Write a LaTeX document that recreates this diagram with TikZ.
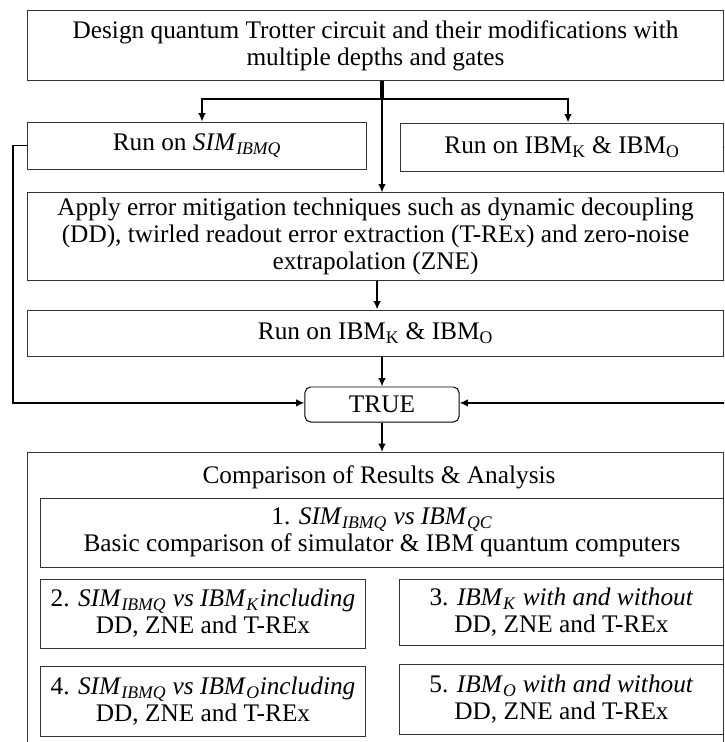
\documentclass[tikz,border=0pt]{standalone}
\usepackage{fontspec}
\setmainfont{Liberation Serif}
\usetikzlibrary{positioning, arrows.meta}

% italic name with italic subscript
\newcommand{\qsub}[2]{\textit{#1}\textsubscript{\textit{#2}}}

\begin{document}
\begin{tikzpicture}[
    x=0.025cm, y=-0.025cm,
    font=\fontsize{18}{19}\selectfont,
    box/.style={rectangle, draw=black!80, line width=0.7pt, inner sep=2pt, align=center},
    stage/.style={box, minimum width=17.375cm},
    half/.style={box, minimum width=8.1cm},
    cmp/.style={box, minimum width=8.1cm, minimum height=1.725cm},
    decision/.style={box, rounded corners=4pt, draw=black, minimum width=3.85cm, minimum height=0.875cm},
    link/.style={-{Latex[length=6pt, width=5.5pt]}, line width=1.4pt},
    trunk/.style={line width=2.6pt}
  ]
    \useasboundingbox (0,0) rectangle (724,742);
    \clip (0,0) rectangle (724,742);

    % Design stage
    \node[stage, minimum height=1.725cm] (design) at (375.5,45.5)
      {Design quantum Trotter circuit and their modifications with\\multiple depths and gates};

    % Runs on simulator and hardware
    \node[half, minimum width=8.45cm, minimum height=1.175cm] (sim) at (197,145.5) {Run on \qsub{SIM}{IBMQ}};
    \node[half, minimum width=8.05cm, minimum height=1.2cm] (ibm) at (562,147) {Run on IBM\textsubscript{K} \& IBM\textsubscript{O}};

    % Error mitigation
    \node[stage, minimum height=2.175cm] (apply) at (375.5,236.5)
      {Apply error mitigation techniques such as dynamic decoupling\\(DD), twirled readout error extraction (T-REx) and zero-noise\\extrapolation (ZNE)};
    \node[stage, minimum height=1.15cm] (runb) at (375.5,333) {Run on IBM\textsubscript{K} \& IBM\textsubscript{O}};

    % Decision
    \node[decision] (true) at (382,404.5) {TRUE};

    % Comparison frame
    \node[stage, minimum height=8cm, anchor=north] (results) at (375.5,452) {};
    \node (title) at (379,477) {Comparison of Results \& Analysis};
    \node[box, minimum width=17.05cm, minimum height=1.725cm] (cmp-one) at (382,532.5)
      {1. \qsub{SIM}{IBMQ} \textit{vs} \qsub{IBM}{QC}\\Basic comparison of simulator \& IBM quantum computers};
    \node[cmp] (cmp-two) at (203,613.5) {2. \qsub{SIM}{IBMQ} \textit{vs} \qsub{IBM}{K}\textit{including}\\DD, ZNE and T-REx};
    \node[cmp, minimum width=8.075cm, minimum height=1.65cm] (cmp-three) at (561.5,612) {3. \qsub{IBM}{K} \textit{with and without}\\DD, ZNE and T-REx};
    \node[cmp, minimum height=1.75cm] (cmp-four) at (203,701) {4. \qsub{SIM}{IBMQ} \textit{vs} \qsub{IBM}{O}\textit{including}\\DD, ZNE and T-REx};
    \node[cmp, minimum width=8.075cm, minimum height=1.75cm] (cmp-five) at (561.5,699) {5. \qsub{IBM}{O} \textit{with and without}\\DD, ZNE and T-REx};

    % Split below design stage
    \coordinate (split) at (382,99);
    \draw[trunk] (design.south -| split) -- (split);
    \draw[link] (split) -| ([xshift=0.125cm]sim.north);
    \draw[link] (split) -| ([xshift=0.15cm]ibm.north);
    \draw[link] (split) -- (split |- apply.north);

    % Main chain
    \draw[link] ([xshift=0.04cm]apply.south) -- ([xshift=0.04cm]runb.north);
    \draw[link] (true.north |- runb.south) -- (true.north);
    \draw[link] (true.south) -- (true.south |- results.north);

    % Feedback from direct runs
    \draw[link] (sim.west) -- ++(-14,0) |- ([yshift=0.04cm]true.west);
    \draw[link] (ibm.east) -- ++(20,0) |- ([yshift=0.04cm]true.east);

  \end{tikzpicture}
\end{document}
